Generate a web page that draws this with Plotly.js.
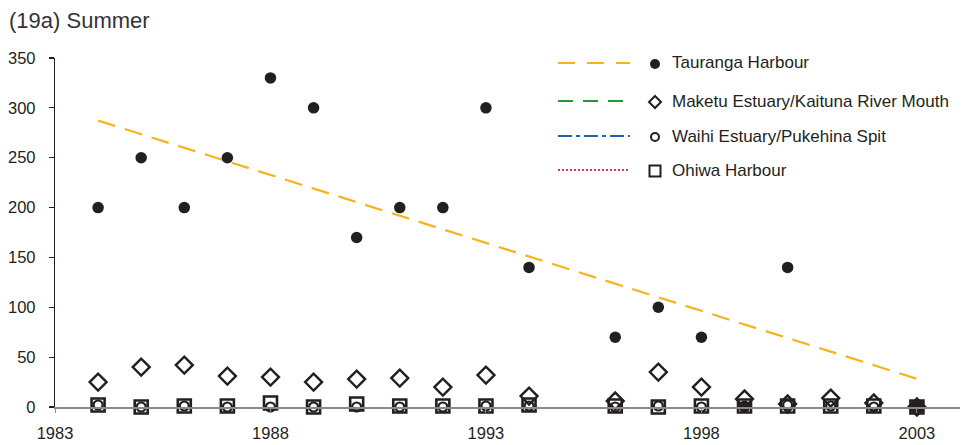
<!DOCTYPE html>
<html>
<head>
<meta charset="utf-8">
<script src="https://cdn.plot.ly/plotly-3.0.1.min.js"></script>
<style>
  html, body { margin: 0; padding: 0; background: #fff; }
  #chart { width: 968px; height: 445px; }
</style>
</head>
<body>
<div id="chart"></div>
<script>
// Summer counts per site, Bay of Plenty harbours and estuaries
const taurangaYears = [1984, 1985, 1986, 1987, 1988, 1989, 1990, 1991, 1992, 1993, 1994, 1996, 1997, 1998, 1999, 2000, 2003];
const taurangaCounts = [200, 250, 200, 250, 330, 300, 170, 200, 200, 300, 140, 70, 100, 70, 0, 140, 0];

const siteYears = [1984, 1985, 1986, 1987, 1988, 1989, 1990, 1991, 1992, 1993, 1994, 1996, 1997, 1998, 1999, 2000, 2001, 2002, 2003];
const maketuCounts = [25, 40, 42, 31, 30, 25, 28, 29, 20, 32, 11, 6, 35, 20, 8, 3, 9, 4, 0];
const waihiCounts  = [2, 0, 1, 0, 0, 0, 0, 0, 0, 1, 1, 0, 1, 0, 1, 2, 1, 0, 0];
const ohiwaCounts  = [2, 0, 1, 1, 4, 0, 3, 1, 1, 1, 2, 1, 0, 1, 1, 1, 1, 1, 0];

const seriesNames = ["Tauranga Harbour", "Maketu Estuary/Kaituna River Mouth", "Waihi Estuary/Pukehina Spit", "Ohiwa Harbour"];
const xTicks = [1983, 1988, 1993, 1998, 2003];
const yTicks = [0, 50, 100, 150, 200, 250, 300, 350];

// least-squares trend for the Tauranga counts
function linearFit(xs, ys) {
  const n = xs.length;
  const mx = xs.reduce((a, b) => a + b, 0) / n;
  const my = ys.reduce((a, b) => a + b, 0) / n;
  let sxy = 0, sxx = 0;
  for (let i = 0; i < n; i++) { sxy += (xs[i] - mx) * (ys[i] - my); sxx += (xs[i] - mx) ** 2; }
  const slope = sxy / sxx;
  return x => my + slope * (x - mx);
}
const fit = linearFit(taurangaYears, taurangaCounts);
const trendX = [taurangaYears[0], taurangaYears[taurangaYears.length - 1]];
const trendY = trendX.map(fit);

const FONT = "Liberation Sans, Arial, Helvetica, sans-serif";
const INK = "#231f20";
const colors = { tauranga: "#f9b21b", maketu: "#1f9a34", waihi: "#1f63b5", ohiwa: "#e8334f" };

const traces = [
  { x: trendX, y: trendY, mode: "lines", line: { color: colors.tauranga, width: 2.2, dash: "18px,10px" }, hoverinfo: "skip" },
  { x: siteYears, y: maketuCounts, mode: "markers", name: seriesNames[1], cliponaxis: false,
    marker: { symbol: "diamond-open", size: 13, color: INK, line: { width: 2.4, color: INK } } },
  { x: taurangaYears, y: taurangaCounts, mode: "markers", name: seriesNames[0], cliponaxis: false,
    marker: { symbol: "circle", size: 11.5, color: INK } },
  { x: siteYears, y: waihiCounts, mode: "markers", name: seriesNames[2], cliponaxis: false,
    marker: { symbol: "circle-open", size: 9, color: INK, line: { width: 2.2, color: INK } } },
  { x: siteYears, y: ohiwaCounts, mode: "markers", name: seriesNames[3], cliponaxis: false,
    marker: { symbol: "square-open", size: 13, color: INK, line: { width: 2.6, color: INK } } }
];

// plot area in pixels
const M = { l: 55, r: 8, t: 58, b: 38 };
const W = 968, H = 445;
const pw = W - M.l - M.r, ph = H - M.t - M.b;
const px = x => (x - M.l) / pw;
const py = y => 1 - (y - M.t) / ph;

// hand-built legend: line sample, marker key, label
const legendRows = [
  { y: 63, color: colors.tauranga, dash: "17px,12px", key: "dot" },
  { y: 101, color: colors.maketu, dash: "15px,10px", key: "diamond" },
  { y: 136, color: colors.waihi, dash: "14px,4px,4px,4px", key: "ring" },
  { y: 170, color: colors.ohiwa, dash: "2px,2px", key: "square" }
];
const shapes = [];
const annotations = [];
legendRows.forEach((r, i) => {
  shapes.push({ type: "line", xref: "paper", yref: "paper", x0: px(558), x1: px(630), y0: py(r.y), y1: py(r.y),
    line: { color: r.color, width: 2.2, dash: r.dash } });
  const cx = 655, cy = r.y + 1;
  if (r.key === "dot") {
    shapes.push({ type: "circle", xref: "paper", yref: "paper", x0: px(cx - 5), x1: px(cx + 5), y0: py(cy + 5), y1: py(cy - 5),
      fillcolor: INK, line: { width: 0 } });
  } else if (r.key === "ring") {
    shapes.push({ type: "circle", xref: "paper", yref: "paper", x0: px(cx - 4), x1: px(cx + 4), y0: py(cy + 4), y1: py(cy - 4),
      line: { color: INK, width: 2 } });
  } else if (r.key === "square") {
    shapes.push({ type: "rect", xref: "paper", yref: "paper", x0: px(cx - 5.5), x1: px(cx + 5.5), y0: py(cy + 5.5), y1: py(cy - 5.5),
      line: { color: INK, width: 2 } });
  } else {
    const d = 6;
    shapes.push({ type: "path", xref: "paper", yref: "paper",
      path: `M ${px(cx)} ${py(cy - d)} L ${px(cx + d)} ${py(cy)} L ${px(cx)} ${py(cy + d)} L ${px(cx - d)} ${py(cy)} Z`,
      line: { color: INK, width: 2 } });
  }
  annotations.push({ xref: "paper", yref: "paper", x: px(670), y: py(r.y), xanchor: "left", yanchor: "middle",
    text: seriesNames[i], showarrow: false, font: { family: FONT, size: 17, color: INK } });
});

const layout = {
  width: W, height: H,
  margin: M,
  paper_bgcolor: "#fff", plot_bgcolor: "#fff",
  showlegend: false,
  title: { text: "(19a) Summer", x: 9 / W, xanchor: "left", y: 1 - 20 / H, yanchor: "middle",
    font: { family: FONT, size: 22, color: "#333" } },
  xaxis: {
    range: [1983, 2004], tickvals: xTicks, ticktext: xTicks.map(String),
    showgrid: false, zeroline: false, showline: true, linecolor: "#8a8a8a", linewidth: 1.5,
    ticks: "outside", ticklen: 4, tickcolor: "#8a8a8a", tickwidth: 1,
    ticklabelstandoff: 7,
    tickfont: { family: FONT, size: 16.5, color: INK }
  },
  yaxis: {
    range: [0, 350], tickvals: yTicks,
    showgrid: false, zeroline: false, showline: true, linecolor: INK, linewidth: 1.2,
    ticks: "outside", ticklen: 5, tickcolor: INK, tickwidth: 1.2,
    ticklabelstandoff: 10,
    tickfont: { family: FONT, size: 16.5, color: INK }
  },
  shapes: shapes,
  annotations: annotations
};

Plotly.newPlot("chart", traces, layout, { displayModeBar: false, staticPlot: true });
</script>
</body>
</html>
